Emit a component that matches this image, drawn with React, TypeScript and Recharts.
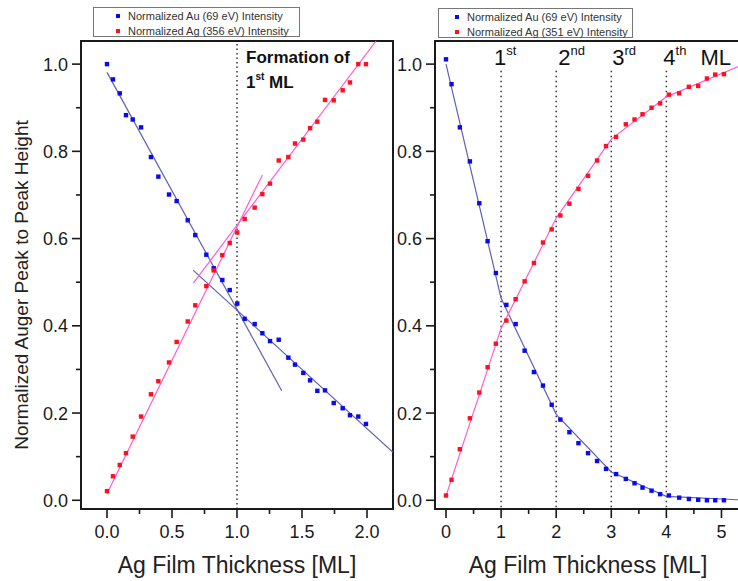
import React from 'react';
import { ComposedChart, Line, Scatter, XAxis, YAxis, ReferenceLine, ReferenceArea } from 'recharts';

// ---- left panel: Au 69 eV / Ag 356 eV vs Ag thickness ----
const thickLeft = [0, 0.046, 0.098, 0.146, 0.198, 0.262, 0.338, 0.395, 0.477, 0.536, 0.621, 0.679, 0.764, 0.821, 0.887, 0.944, 1.002, 1.059, 1.136, 1.195, 1.254, 1.321, 1.395, 1.446, 1.51, 1.562, 1.618, 1.677, 1.744, 1.813, 1.869, 1.933, 1.992];
const auLeft = [1.0, 0.965, 0.933, 0.883, 0.873, 0.855, 0.787, 0.742, 0.701, 0.686, 0.642, 0.608, 0.563, 0.532, 0.505, 0.482, 0.451, 0.416, 0.404, 0.383, 0.365, 0.368, 0.327, 0.311, 0.292, 0.275, 0.251, 0.252, 0.223, 0.211, 0.195, 0.192, 0.175];
const agLeft = [0.021, 0.055, 0.081, 0.108, 0.146, 0.192, 0.243, 0.273, 0.316, 0.363, 0.41, 0.447, 0.491, 0.527, 0.562, 0.59, 0.614, 0.645, 0.671, 0.702, 0.726, 0.779, 0.787, 0.818, 0.827, 0.853, 0.868, 0.918, 0.917, 0.94, 0.958, 1.0, 1.0];

// straight-line fits (endpoints)
const auFit1 = [{ x: 0, y: 0.981 }, { x: 1.344, y: 0.251 }];
const auFit2 = [{ x: 0.664, y: 0.527 }, { x: 2.2, y: 0.11 }];
const agFit1 = [{ x: 0, y: 0.015 }, { x: 1.195, y: 0.746 }];
const agFit2 = [{ x: 0.664, y: 0.498 }, { x: 2.07, y: 1.053 }];

// ---- right panel: Au 69 eV / Ag 351 eV ----
const thickRight = [0, 0.1, 0.251, 0.433, 0.604, 0.755, 0.905, 1.095, 1.264, 1.427, 1.596, 1.76, 1.918, 2.076, 2.24, 2.404, 2.578, 2.742, 2.905, 3.087, 3.264, 3.422, 3.567, 3.731, 3.887, 4.045, 4.233, 4.409, 4.578, 4.736, 4.887, 5.045];
const auRight = [1.011, 0.954, 0.855, 0.777, 0.681, 0.594, 0.521, 0.448, 0.404, 0.343, 0.294, 0.263, 0.219, 0.185, 0.156, 0.131, 0.108, 0.09, 0.072, 0.06, 0.049, 0.039, 0.029, 0.022, 0.014, 0.011, 0.006, 0.003, 0.001, 0.0, 0.0, 0.0];
const agRight = [0.011, 0.047, 0.117, 0.188, 0.247, 0.305, 0.359, 0.412, 0.461, 0.502, 0.544, 0.591, 0.621, 0.653, 0.68, 0.714, 0.744, 0.779, 0.812, 0.833, 0.862, 0.873, 0.885, 0.9, 0.91, 0.93, 0.933, 0.948, 0.95, 0.967, 0.976, 0.977];

// layer-by-layer model, break points at each completed ML
const mlNodes = [0, 1, 2, 3, 4, 5.5];
const auModel = [1.0, 0.463, 0.197, 0.065, 0.009, 0.0];
const agModel = [0.01, 0.394, 0.647, 0.828, 0.925, 1.005];

const mlMarks = [1, 2, 3, 4];
const mlSup = ['st', 'nd', 'rd', 'th'];

const yTicks = [0, 0.1, 0.2, 0.3, 0.4, 0.5, 0.6, 0.7, 0.8, 0.9, 1.0];
const xTicksLeft = [0, 0.25, 0.5, 0.75, 1.0, 1.25, 1.5, 1.75, 2.0];
const xTicksRight = [0, 0.5, 1, 1.5, 2, 2.5, 3, 3.5, 4, 4.5, 5];

const FONT = '"Liberation Sans", Arial, Helvetica, sans-serif';
const TOP = 41;
const AXIS = '#1a1a1a';
const AU_PT = '#0a0af0';
const AG_PT = '#ff1020';
const AU_LINE = '#6060b4';
const AG_LINE = '#ff5ad6';

const pts = (xs: number[], ys: number[]) => xs.map((x, i) => ({ x, y: ys[i] }));

const square = (color: string) => (p: any) => (
  <rect x={p.cx - 2.2} y={p.cy - 2.2} width={4.4} height={4.4} fill={color} />
);

const isMult = (v: number, step: number) => Math.abs(v / step - Math.round(v / step)) < 1e-6;

const XTick = (step: number, fmt: (v: number) => string) => (p: any) => {
  const v = p.payload.value;
  const major = isMult(v, step);
  return (
    <g>
      <line x1={p.x} x2={p.x} y1={p.y} y2={p.y + (major ? 9 : 5)} stroke={AXIS} strokeWidth={1.6} />
      {major && (
        <text x={p.x} y={p.y + 29} textAnchor="middle" fontSize={18} fontFamily={FONT} fill={AXIS}>
          {fmt(v)}
        </text>
      )}
    </g>
  );
};

const YTick = (p: any) => {
  const v = p.payload.value;
  const major = isMult(v, 0.2);
  return (
    <g>
      <line x1={p.x - (major ? 9 : 5)} x2={p.x} y1={p.y} y2={p.y} stroke={AXIS} strokeWidth={1.6} />
      {major && (
        <text x={p.x - 13} y={p.y} dy="0.36em" textAnchor="end" fontSize={18} fontFamily={FONT} fill={AXIS}>
          {v.toFixed(1)}
        </text>
      )}
    </g>
  );
};

const LeftPanel = () => (
  <ComposedChart width={400} height={581} margin={{ top: TOP, right: 7, bottom: 0, left: 0 }}>
    <XAxis type="number" dataKey="x" domain={[-0.2, 2.2]} ticks={xTicksLeft} allowDataOverflow
      height={72} tickLine={false} tickSize={0} tickMargin={0} interval={0}
      axisLine={{ stroke: AXIS, strokeWidth: 2 }} tick={XTick(0.5, (v) => v.toFixed(1))} />
    <YAxis type="number" dataKey="y" domain={[-0.02, 1.053]} ticks={yTicks} allowDataOverflow
      width={81} tickLine={false} tickSize={0} tickMargin={0} interval={0}
      axisLine={{ stroke: AXIS, strokeWidth: 2 }} tick={YTick} />
    <ReferenceArea x1={-0.2} x2={2.2} y1={-0.02} y2={1.053} fill="none" stroke={AXIS} strokeWidth={2} ifOverflow="visible" />
    <ReferenceLine x={1} stroke="#333" strokeWidth={1.5} strokeDasharray="1.5 3"
      label={(props: any) => {
        const vx = props.viewBox.x;
        return (
          <g fontFamily={FONT} fontWeight="bold" fill="#111">
            <text x={vx + 9} y={TOP + 22} fontSize={17}>Formation of</text>
            <text x={vx + 9} y={TOP + 47} fontSize={17}>
              1<tspan fontSize={10} dy={-8}>st</tspan><tspan dy={8}> ML</tspan>
            </text>
          </g>
        );
      }} />
    <Line data={auFit1} dataKey="y" type="linear" stroke={AU_LINE} strokeWidth={1.2} dot={false} isAnimationActive={false} />
    <Line data={auFit2} dataKey="y" type="linear" stroke={AU_LINE} strokeWidth={1.2} dot={false} isAnimationActive={false} />
    <Line data={agFit1} dataKey="y" type="linear" stroke={AG_LINE} strokeWidth={1.2} dot={false} isAnimationActive={false} />
    <Line data={agFit2} dataKey="y" type="linear" stroke={AG_LINE} strokeWidth={1.2} dot={false} isAnimationActive={false} />
    <Scatter data={pts(thickLeft, auLeft)} shape={square(AU_PT)} isAnimationActive={false} />
    <Scatter data={pts(thickLeft, agLeft)} shape={square(AG_PT)} isAnimationActive={false} />
  </ComposedChart>
);

const labelDx = [-7, 2, 1, -3];

const RightPanel = () => (
  <ComposedChart width={402} height={581} margin={{ top: TOP, right: 7, bottom: 0, left: 0 }}>
    <XAxis type="number" dataKey="x" domain={[-0.2, 5.5]} ticks={xTicksRight} allowDataOverflow
      height={72} tickLine={false} tickSize={0} tickMargin={0} interval={0}
      axisLine={{ stroke: AXIS, strokeWidth: 2 }} tick={XTick(1, (v) => String(v))} />
    <YAxis type="number" dataKey="y" domain={[-0.02, 1.053]} ticks={yTicks} allowDataOverflow
      width={81} tickLine={false} tickSize={0} tickMargin={0} interval={0}
      axisLine={{ stroke: AXIS, strokeWidth: 2 }} tick={YTick} />
    <ReferenceArea x1={-0.2} x2={5.5} y1={-0.02} y2={1.053} fill="none" stroke={AXIS} strokeWidth={2} ifOverflow="visible" />
    {mlMarks.map((m, i) => (
      <ReferenceLine key={m} segment={[{ x: m, y: 0.985 }, { x: m, y: -0.02 }]}
        stroke="#333" strokeWidth={1.5} strokeDasharray="1.5 3.5"
        label={(props: any) => {
          const vx = props.viewBox.x;
          return (
            <text x={vx + labelDx[i]} y={TOP + 24} fontSize={22} fontFamily={FONT} fill="#111">
              {m}<tspan fontSize={13} dy={-10}>{mlSup[i]}</tspan>
              {i === mlMarks.length - 1 && <tspan dy={10} dx={14}>ML</tspan>}
            </text>
          );
        }} />
    ))}
    <Line data={pts(mlNodes, auModel)} dataKey="y" type="linear" stroke={AU_LINE} strokeWidth={1.2} dot={false} isAnimationActive={false} />
    <Line data={pts(mlNodes, agModel)} dataKey="y" type="linear" stroke={AG_LINE} strokeWidth={1.2} dot={false} isAnimationActive={false} />
    <Scatter data={pts(thickRight, auRight)} shape={square(AU_PT)} isAnimationActive={false} />
    <Scatter data={pts(thickRight, agRight)} shape={square(AG_PT)} isAnimationActive={false} />
  </ComposedChart>
);

const LegendBox = ({ left, top, width, pad, agLabel }: { left: number; top: number; width: number; pad: number; agLabel: string }) => {
  const rows = [
    { color: AU_PT, text: 'Normalized Au (69 eV) Intensity' },
    { color: AG_PT, text: agLabel },
  ];
  return (
    <div style={{
      position: 'absolute', left, top, width, height: 30, boxSizing: 'border-box',
      border: '1px solid #777', background: '#fff', fontFamily: FONT, fontSize: 11, color: '#333',
    }}>
      {rows.map((r, i) => (
        <div key={i} style={{ position: 'absolute', left: pad, top: 1 + i * 14.5, height: 14, lineHeight: '14px', whiteSpace: 'nowrap', display: 'flex', alignItems: 'center' }}>
          <span style={{ display: 'inline-block', width: 4, height: 4, background: r.color, marginRight: 8 }} />
          {r.text}
        </div>
      ))}
    </div>
  );
};

export default function App() {
  return (
    <div style={{ position: 'fixed', left: 0, top: 0, width: 738, height: 581, overflow: 'hidden', background: '#fff' }}>
      <div style={{ position: 'absolute', left: 0, top: 0 }}>
        <LeftPanel />
      </div>
      <div style={{ position: 'absolute', left: 354, top: 0 }}>
        <RightPanel />
      </div>
      <svg width={738} height={581} style={{ position: 'absolute', left: 0, top: 0, pointerEvents: 'none' }}>
        <text transform="translate(28,285) rotate(-90)" textAnchor="middle" fontSize={19} fontFamily={FONT} fill="#222">
          Normalized Auger Peak to Peak Height
        </text>
        <text x={237} y={573} textAnchor="middle" fontSize={23} fontFamily={FONT} fill="#222">Ag Film Thickness [ML]</text>
        <text x={588} y={573} textAnchor="middle" fontSize={23} fontFamily={FONT} fill="#222">Ag Film Thickness [ML]</text>
      </svg>
      <LegendBox left={93} top={7} width={207} pad={22} agLabel="Normalized Ag (356 eV) Intensity" />
      <LegendBox left={438} top={8} width={195} pad={16} agLabel="Normalized Ag (351 eV) Intensity" />
    </div>
  );
}
